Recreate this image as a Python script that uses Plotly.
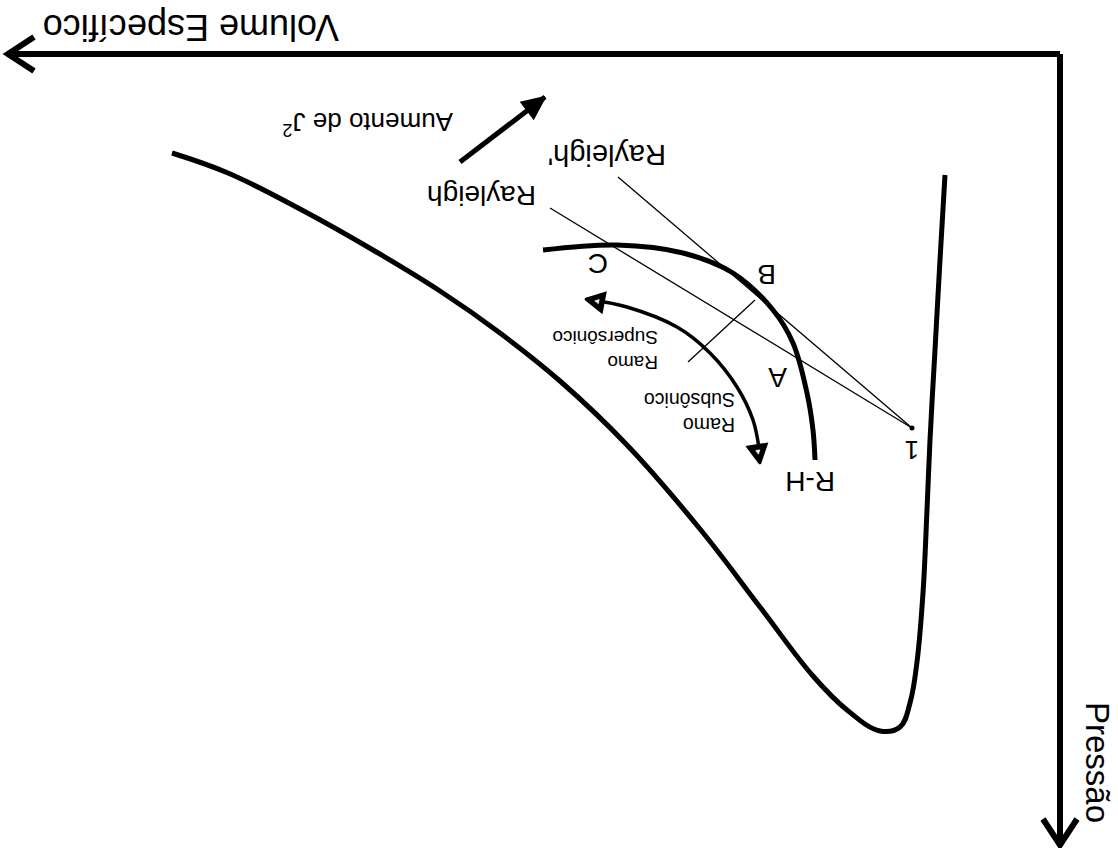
import numpy as np
import plotly.graph_objects as go

W, H = 1118, 848
FONT = "Arial, Liberation Sans, sans-serif"

# Hugoniot curve (specific volume, pressure) in drawing units
hug_v = [172, 228, 300, 373, 440, 500, 560, 627, 700, 760, 813, 847, 880, 900, 910, 917, 923, 927, 930, 935, 940, 945]
hug_p = [153, 173, 209, 250, 291, 333, 381, 445, 529, 607, 676, 710, 731, 727, 703, 662, 593, 510, 440, 350, 260, 175]

# Rankine-Hugoniot curve from state 1
rh_v = [543, 617, 683, 733, 773, 793, 807, 813, 815]
rh_p = [250, 245, 253, 273, 310, 343, 393, 430, 460]

# Initial state 1 and Rayleigh line ends
state1 = (912, 428)
rayleigh_end = (550, 208)
rayleigh2_end = (618, 177)

# Divider between subsonic and supersonic branches
divider_v = [688, 755]
divider_p = [362, 300]

# Double-headed branch arrow
branch_v = [592, 627, 677, 710, 737, 753, 759]
branch_p = [300, 307, 327, 353, 387, 420, 448]

# "Aumento de J²" arrow
jarrow_v = [460, 545]
jarrow_p = [162, 97]

# Axes
vaxis_v = [10, 1060]
vaxis_p = [54, 54]
paxis_v = [1060, 1060]
paxis_p = [54, 843]

fig = go.Figure()


def line(xs, ys, width, shape="linear", smoothing=1.0):
    fig.add_trace(go.Scatter(x=xs, y=ys, mode="lines",
                             line=dict(color="black", width=width, shape=shape, smoothing=smoothing),
                             hoverinfo="skip", showlegend=False))


def triangle(tail, tip, length, half, fill="black", width=1, inner=False):
    t = np.array(tip, float)
    d = t - np.array(tail, float)
    u = d / np.linalg.norm(d)
    n = np.array([-u[1], u[0]])
    b = t - length * u
    pts = [t, b + half * n, b - half * n, t]
    fig.add_trace(go.Scatter(x=[p[0] for p in pts], y=[p[1] for p in pts], mode="lines", fill="toself",
                             fillcolor=fill, line=dict(color="black", width=width),
                             hoverinfo="skip", showlegend=False))
    if inner:
        c = (pts[0] + pts[1] + pts[2]) / 3
        ip = [c + 0.22 * (p - c) for p in pts]
        fig.add_trace(go.Scatter(x=[p[0] for p in ip], y=[p[1] for p in ip], mode="lines", fill="toself",
                                 fillcolor="white", line=dict(color="white", width=0.5),
                                 hoverinfo="skip", showlegend=False))


def chevron(tail, tip, length, half, width):
    t = np.array(tip, float)
    d = t - np.array(tail, float)
    u = d / np.linalg.norm(d)
    n = np.array([-u[1], u[0]])
    b = t - length * u
    a1, a2 = b + half * n, b - half * n
    line([a1[0], t[0], a2[0]], [a1[1], t[1], a2[1]], width)


# axes with open arrowheads
line(vaxis_v, vaxis_p, 6)
line(paxis_v, paxis_p, 6)
chevron((vaxis_v[1], vaxis_p[1]), (vaxis_v[0] - 2, vaxis_p[0]), 26, 17, 6)
chevron((paxis_v[0], paxis_p[0]), (paxis_v[1], paxis_p[1] + 2), 26, 17, 6)

# curves
line(hug_v, hug_p, 5, "spline", 1.1)
line(rh_v, rh_p, 5, "spline")

# Rayleigh lines
line([state1[0], rayleigh_end[0]], [state1[1], rayleigh_end[1]], 1.3)
line([state1[0], rayleigh2_end[0]], [state1[1], rayleigh2_end[1]], 1.3)
fig.add_trace(go.Scatter(x=[state1[0]], y=[state1[1]], mode="markers",
                         marker=dict(color="black", size=5), hoverinfo="skip", showlegend=False))

line(divider_v, divider_p, 1.3)

# branch arrow
line(branch_v, branch_p, 3.5, "spline")
triangle((branch_v[1], branch_p[1]), (branch_v[0] - 7, branch_p[0] - 1), 19, 10, width=2, inner=True)
triangle((branch_v[-2], branch_p[-2]), (branch_v[-1] + 1, branch_p[-1] + 16), 19, 10, width=2, inner=True)

# J² arrow
line(jarrow_v, jarrow_p, 5)
triangle((jarrow_v[0], jarrow_p[0]), (jarrow_v[1], jarrow_p[1]), 22, 10, width=2)


def label(text, x, y, size, angle=180, align="center"):
    fig.add_annotation(x=x, y=y, text=text, showarrow=False, textangle=angle, align=align,
                       font=dict(family=FONT, size=size, color="black"))


label("Volume Específico", 191, 28, 36)
label("Pressão", 1098, 762, 33, angle=90)
label("Aumento de J<sup>2</sup>", 368, 124, 26)
label("Rayleigh'", 607, 155, 29)
label("Rayleigh", 482, 196, 28)
label("C", 598, 264, 28)
label("B", 767, 275, 28)
label("A", 778, 378, 28)
label("R-H", 810, 482, 28)
label("1", 912, 450, 26)
label("Ramo<br>Subsônico", 690, 413, 19.5, align="left")
label("Ramo<br>Supersônico", 605, 350, 19, align="left")

fig.update_layout(
    width=W, height=H,
    margin=dict(l=0, r=0, t=0, b=0),
    paper_bgcolor="white", plot_bgcolor="white",
    xaxis=dict(range=[0, W], visible=False, fixedrange=True),
    yaxis=dict(range=[H, 0], visible=False, fixedrange=True),
)

fig.write_html("out.html")
